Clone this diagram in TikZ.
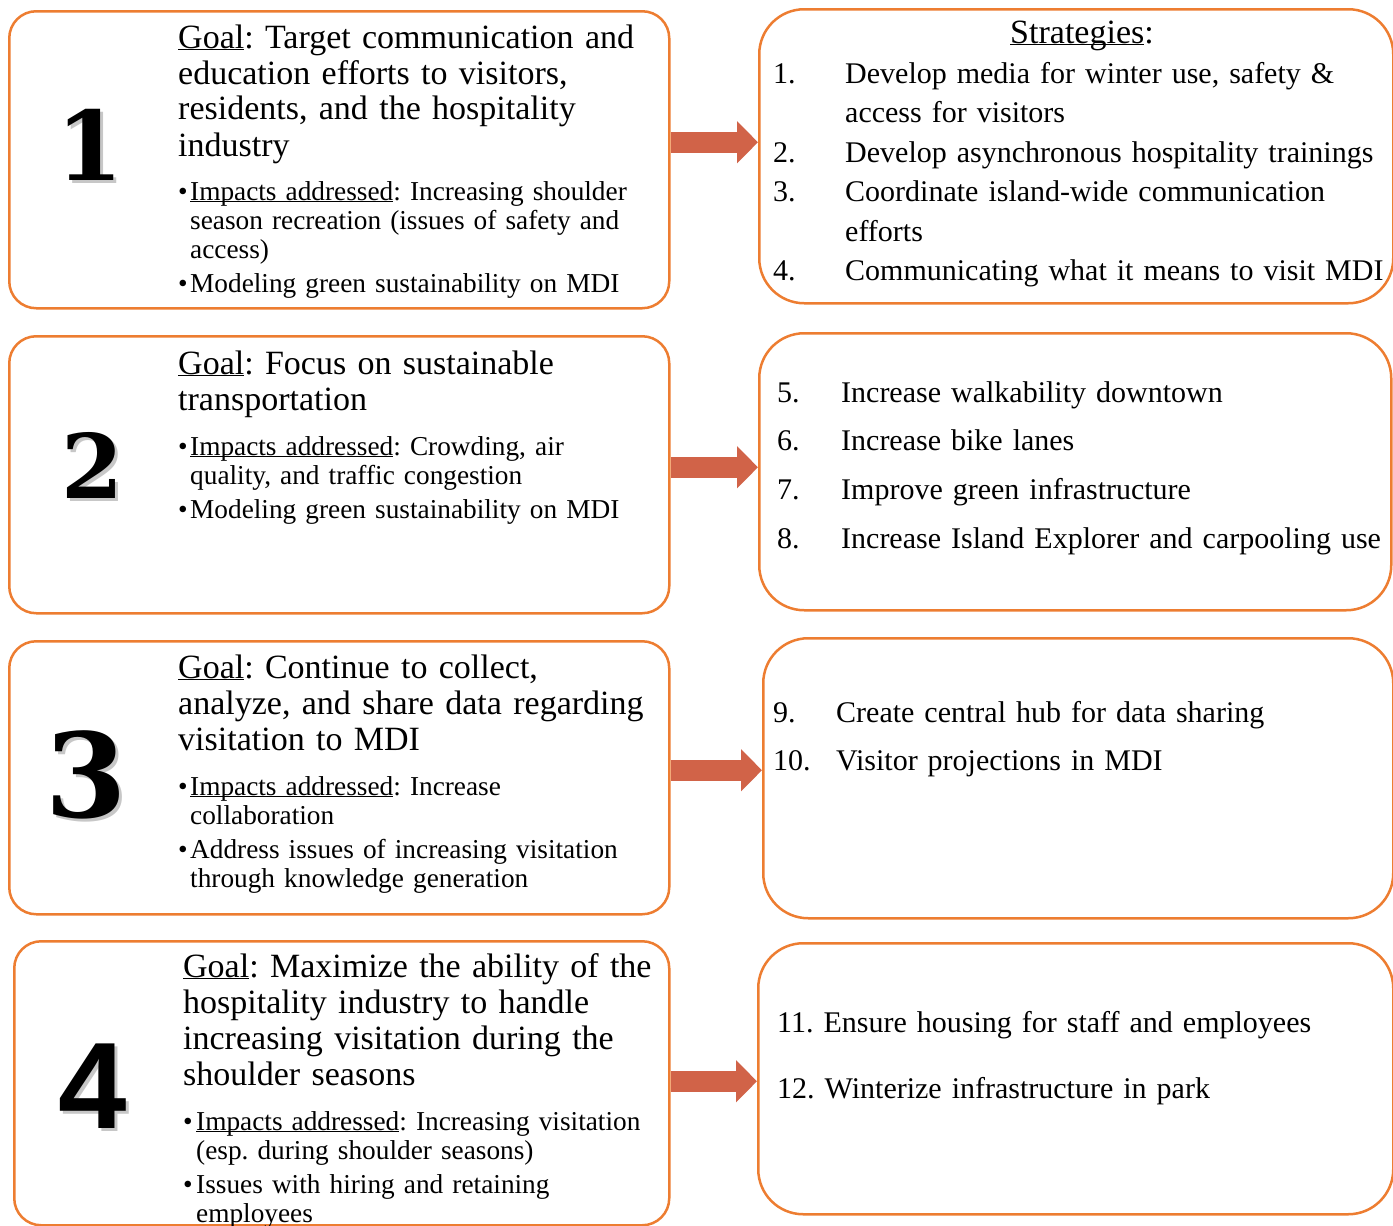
\documentclass[tikz,border=0pt]{standalone}
\usepackage{fontspec}
\setmainfont{Liberation Serif}
\newfontfamily\numserif{DejaVu Serif}
\newfontfamily\numsans{Liberation Sans}
\definecolor{boxorange}{RGB}{237, 125, 49}
\definecolor{arrowred}{RGB}{209, 99, 72}
\usetikzlibrary{arrows.meta, positioning, calc}
\frenchspacing
\newcommand{\ulword}[1]{\underline{\smash{#1}}}

\tikzset{
  goalbox/.style={draw=boxorange, line width=2.5pt, rounded corners=27pt, anchor=north west, inner sep=0pt},
  stratbox/.style={draw=boxorange, line width=2.5pt, rounded corners=45pt, anchor=north west, inner sep=0pt},
  goaltext/.style={anchor=base west, inner sep=0pt, text width=520pt, align=left, font=\fontsize{34}{36}\selectfont},
  impacttext/.style={anchor=base west, inner sep=0pt, text width=500pt, align=left, font=\fontsize{27.3}{29}\selectfont},
  strattext/.style={anchor=base west, inner sep=0pt, text width=640pt, align=left, font=\fontsize{30}{39.5}\selectfont},
  numshadow/.style={inner sep=0pt, text=black!22},
  flowarrow/.style={draw=arrowred, line width=21pt, -{Triangle[length=21pt, width=41pt]}},
}

\begin{document}
\begin{tikzpicture}[x=1pt, y=-1pt]
  \useasboundingbox (0,0) rectangle (1393,1226);

  % goal boxes (left)
  \node[goalbox, minimum width=660pt, minimum height=297pt] (goalbox1) at (8,10) {};
  \node[goalbox, minimum width=660pt, minimum height=277pt] (goalbox2) at (8,335) {};
  \node[goalbox, minimum width=660pt, minimum height=273pt] (goalbox3) at (8,640) {};
  \node[goalbox, minimum width=655pt, minimum height=284pt] (goalbox4) at (13,940) {};

  % strategy boxes (right)
  \node[stratbox, minimum width=634pt, minimum height=294pt] (stratbox1) at (758,8) {};
  \node[stratbox, minimum width=632pt, minimum height=277pt] (stratbox2) at (758,332) {};
  \node[stratbox, minimum width=630pt, minimum height=280pt] (stratbox3) at (762,637) {};
  \node[stratbox, minimum width=635pt, minimum height=271pt] (stratbox4) at (757,942) {};

  % big numbers with shadow
  \foreach \n/\x/\y/\s in {1/90/145/96, 2/92/465/89, 3/86/775/117} {
    \node[numshadow, font=\numserif\bfseries\fontsize{\s}{\s}\selectfont] at (\x+3,\y+3) {\n};
    \node[inner sep=0pt, font=\numserif\bfseries\fontsize{\s}{\s}\selectfont] (num\n) at (\x,\y) {\n};
  }
  \node[numshadow, font=\numsans\bfseries\fontsize{123}{123}\selectfont] at (95.5,1089) {4};
  \node[inner sep=0pt, font=\numsans\bfseries\fontsize{123}{123}\selectfont] (num4) at (92.5,1086) {4};

  % goal 1
  \node[goaltext] (goal1) at (178,48) {\ulword{Goal}: Target communication and\\
    education efforts to visitors,\\
    residents, and the hospitality\\
    industry};
  \node[impacttext] (impact1) at (178,200) {\makebox[12pt][l]{\textbullet}\ulword{Impacts addressed}: Increasing shoulder\\
    \hspace*{12pt}season recreation (issues of safety and\\
    \hspace*{12pt}access)\\[5pt]
    \makebox[12pt][l]{\textbullet}Modeling green sustainability on MDI};

  % goal 2
  \node[goaltext] (goal2) at (178,374) {\ulword{Goal}: Focus on sustainable\\
    transportation};
  \node[impacttext] (impact2) at (178,455) {\makebox[12pt][l]{\textbullet}\ulword{Impacts addressed}: Crowding, air\\
    \hspace*{12pt}quality, and traffic congestion\\[5pt]
    \makebox[12pt][l]{\textbullet}Modeling green sustainability on MDI};

  % goal 3
  \node[goaltext] (goal3) at (178,678) {\ulword{Goal}: Continue to collect,\\
    analyze, and share data regarding\\
    visitation to MDI};
  \node[impacttext] (impact3) at (178,795) {\makebox[12pt][l]{\textbullet}\ulword{Impacts addressed}: Increase\\
    \hspace*{12pt}collaboration\\[5pt]
    \makebox[12pt][l]{\textbullet}Address issues of increasing visitation\\
    \hspace*{12pt}through knowledge generation};

  % goal 4
  \node[goaltext] (goal4) at (183,977) {\ulword{Goal}: Maximize the ability of the\\
    hospitality industry to handle\\
    increasing visitation during the\\
    shoulder seasons};
  \node[impacttext] (impact4) at (183,1130) {\makebox[13pt][l]{\textbullet}\ulword{Impacts addressed}: Increasing visitation\\
    \hspace*{13pt}(esp. during shoulder seasons)\\[5pt]
    \makebox[13pt][l]{\textbullet}Issues with hiring and retaining\\
    \hspace*{13pt}employees};

  % strategies
  \node[anchor=base, inner sep=0pt, font=\fontsize{34}{36}\selectfont] (strathead) at (1082,43) {\ulword{Strategies}:};
  \node[strattext] (strat1) at (773,83) {\makebox[72pt][l]{1.}Develop media for winter use, safety \&\\
    \hspace*{72pt}access for visitors\\
    \makebox[72pt][l]{2.}Develop asynchronous hospitality trainings\\
    \makebox[72pt][l]{3.}Coordinate island-wide communication\\
    \hspace*{72pt}efforts\\
    \makebox[72pt][l]{4.}Communicating what it means to visit MDI};
  \node[strattext, font=\fontsize{30}{48.7}\selectfont] (strat2) at (777,402) {\makebox[64pt][l]{5.}Increase walkability downtown\\
    \makebox[64pt][l]{6.}Increase bike lanes\\
    \makebox[64pt][l]{7.}Improve green infrastructure\\
    \makebox[64pt][l]{8.}Increase Island Explorer and carpooling use};
  \node[strattext, font=\fontsize{30}{48}\selectfont] (strat3) at (773,722) {\makebox[63pt][l]{9.}Create central hub for data sharing\\
    \makebox[63pt][l]{10.}Visitor projections in MDI};
  \node[strattext, font=\fontsize{30}{66}\selectfont] (strat4) at (777,1032) {11. Ensure housing for staff and employees\\
    12. Winterize infrastructure in park};

  % arrows from goals to strategies
  \foreach \i/\dy in {1/17.5, 2/7.5, 3/7.5, 4/2} {
    \coordinate (tail\i) at ([yshift=\dy pt]goalbox\i.east);
    \draw[flowarrow] (tail\i) -- (tail\i -| stratbox\i.west);
  }
\end{tikzpicture}
\end{document}
